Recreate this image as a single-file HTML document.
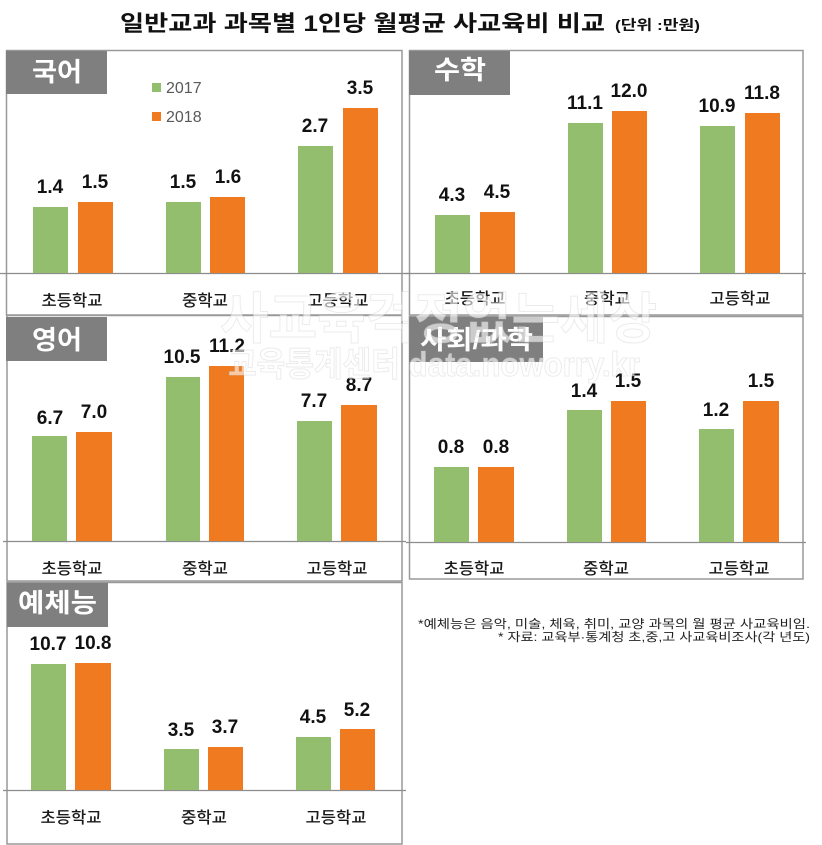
<!DOCTYPE html>
<html><head><meta charset="utf-8">
<style>
html,body{margin:0;padding:0;background:#fff;}
svg{display:block;}
.t{font-family:"Liberation Sans","Noto Sans CJK KR",sans-serif;}
.k{font-family:"Liberation Sans","Noto Sans CJK KR","NanumGothic",sans-serif;}
.v{font-family:"Liberation Sans",sans-serif;font-weight:bold;font-size:19px;fill:#111;text-anchor:middle;}
.c{font-family:"Liberation Sans","Noto Sans CJK KR",sans-serif;font-size:16px;font-weight:500;fill:#1a1a1a;text-anchor:middle;}
.lb{font-family:"Liberation Sans","Noto Sans CJK KR",sans-serif;font-weight:bold;font-size:26px;fill:#fff;}
</style></head>
<body>
<svg width="822" height="845" viewBox="0 0 822 845" xmlns="http://www.w3.org/2000/svg">
<rect x="0" y="0" width="822" height="845" fill="#fff"/>

<!-- Title -->
<text class="t" x="120" y="31" font-size="22" font-weight="bold" fill="#111" textLength="485" lengthAdjust="spacingAndGlyphs">일반교과 과목별 1인당 월평균 사교육비 비교</text>
<text class="t" x="615" y="30" font-size="14" font-weight="bold" fill="#111" textLength="85" lengthAdjust="spacingAndGlyphs">(단위 :만원)</text>

<!-- Panel borders -->
<g fill="none" stroke="#999" stroke-width="1.5">
<rect x="6.5" y="50.5" width="395.5" height="264.5"/>
<rect x="409.5" y="50.5" width="393.5" height="264.5"/>
<rect x="7" y="315.5" width="395" height="265.5"/>
<rect x="409.5" y="316.5" width="393.5" height="262.5"/>
<rect x="7" y="582.5" width="395" height="261.5"/>
</g>

<!-- Axis lines -->
<g stroke="#8c8c8c" stroke-width="1.2">
<line x1="0" y1="273.5" x2="410" y2="273.5"/>
<line x1="405" y1="273.5" x2="806" y2="273.5"/>
<line x1="3" y1="541.5" x2="406" y2="541.5"/>
<line x1="406" y1="542.5" x2="806" y2="542.5"/>
<line x1="3" y1="790.5" x2="406" y2="790.5"/>
</g>

<!-- Label boxes -->
<g fill="#7f7f7f">
<rect x="6" y="51" width="101" height="43"/>
<rect x="409" y="51" width="101" height="44"/>
<rect x="6" y="317" width="101" height="44"/>
<rect x="409" y="317" width="134" height="45"/>
<rect x="7" y="583" width="101" height="44"/>
</g>
<text class="lb" x="32" y="81" textLength="50" lengthAdjust="spacingAndGlyphs">국어</text>
<text class="lb" x="434" y="79" textLength="52" lengthAdjust="spacingAndGlyphs">수학</text>
<text class="lb" x="32" y="349" textLength="50" lengthAdjust="spacingAndGlyphs">영어</text>
<text class="lb" x="420" y="349" textLength="113" lengthAdjust="spacingAndGlyphs">사회/과학</text>
<text class="lb" x="18" y="612" textLength="79" lengthAdjust="spacingAndGlyphs">예체능</text>

<!-- Legend -->
<rect x="152" y="83" width="9" height="9" fill="#92be6e"/>
<text x="166" y="93" font-family="Liberation Sans, sans-serif" font-size="16" fill="#595959">2017</text>
<rect x="152" y="112" width="9" height="9" fill="#ef7a20"/>
<text x="166" y="122" font-family="Liberation Sans, sans-serif" font-size="16" fill="#595959">2018</text>

<!-- 국어 bars (baseline 273) -->
<g>
<rect x="33" y="207" width="35" height="66" fill="#92be6e"/>
<rect x="78" y="202" width="35" height="71" fill="#ef7a20"/>
<rect x="166" y="202" width="35" height="71" fill="#92be6e"/>
<rect x="210" y="197" width="35" height="76" fill="#ef7a20"/>
<rect x="298" y="146" width="35" height="127" fill="#92be6e"/>
<rect x="343" y="108" width="35" height="165" fill="#ef7a20"/>
</g>
<text class="v" x="50" y="193">1.4</text>
<text class="v" x="95" y="188">1.5</text>
<text class="v" x="183" y="188">1.5</text>
<text class="v" x="228" y="183">1.6</text>
<text class="v" x="315" y="132">2.7</text>
<text class="v" x="360" y="94">3.5</text>
<text class="c" x="72" y="306" textLength="61" lengthAdjust="spacingAndGlyphs">초등학교</text>
<text class="c" x="205" y="306" textLength="46" lengthAdjust="spacingAndGlyphs">중학교</text>
<text class="c" x="338" y="306" textLength="61" lengthAdjust="spacingAndGlyphs">고등학교</text>

<!-- 수학 bars (baseline 273) -->
<g>
<rect x="435" y="215" width="35" height="58" fill="#92be6e"/>
<rect x="480" y="212" width="35" height="61" fill="#ef7a20"/>
<rect x="568" y="123" width="35" height="150" fill="#92be6e"/>
<rect x="612" y="111" width="35" height="162" fill="#ef7a20"/>
<rect x="700" y="126" width="35" height="147" fill="#92be6e"/>
<rect x="745" y="113" width="35" height="160" fill="#ef7a20"/>
</g>
<text class="v" x="452" y="201">4.3</text>
<text class="v" x="497" y="198">4.5</text>
<text class="v" x="585" y="109">11.1</text>
<text class="v" x="629" y="97">12.0</text>
<text class="v" x="717" y="112">10.9</text>
<text class="v" x="762" y="99">11.8</text>
<text class="c" x="475" y="304" textLength="61" lengthAdjust="spacingAndGlyphs">초등학교</text>
<text class="c" x="607" y="304" textLength="46" lengthAdjust="spacingAndGlyphs">중학교</text>
<text class="c" x="740" y="304" textLength="61" lengthAdjust="spacingAndGlyphs">고등학교</text>

<!-- 영어 bars (baseline 541) -->
<g>
<rect x="32" y="436" width="35" height="105" fill="#92be6e"/>
<rect x="76" y="432" width="36" height="109" fill="#ef7a20"/>
<rect x="166" y="377" width="34" height="164" fill="#92be6e"/>
<rect x="209" y="366" width="35" height="175" fill="#ef7a20"/>
<rect x="297" y="421" width="35" height="120" fill="#92be6e"/>
<rect x="341" y="405" width="36" height="136" fill="#ef7a20"/>
</g>
<text class="v" x="50" y="424">6.7</text>
<text class="v" x="94" y="418">7.0</text>
<text class="v" x="182" y="363">10.5</text>
<text class="v" x="227" y="352">11.2</text>
<text class="v" x="314" y="407">7.7</text>
<text class="v" x="359" y="391">8.7</text>
<text class="c" x="72" y="574" textLength="61" lengthAdjust="spacingAndGlyphs">초등학교</text>
<text class="c" x="205" y="574" textLength="46" lengthAdjust="spacingAndGlyphs">중학교</text>
<text class="c" x="337" y="574" textLength="61" lengthAdjust="spacingAndGlyphs">고등학교</text>

<!-- 사회/과학 bars (baseline 542) -->
<g>
<rect x="434" y="467" width="35" height="75" fill="#92be6e"/>
<rect x="478" y="467" width="36" height="75" fill="#ef7a20"/>
<rect x="567" y="410" width="35" height="132" fill="#92be6e"/>
<rect x="611" y="401" width="35" height="141" fill="#ef7a20"/>
<rect x="699" y="429" width="35" height="113" fill="#92be6e"/>
<rect x="743" y="401" width="36" height="141" fill="#ef7a20"/>
</g>
<text class="v" x="451" y="453">0.8</text>
<text class="v" x="496" y="453">0.8</text>
<text class="v" x="584" y="397">1.4</text>
<text class="v" x="628" y="387">1.5</text>
<text class="v" x="716" y="416">1.2</text>
<text class="v" x="761" y="387">1.5</text>
<text class="c" x="474" y="574" textLength="61" lengthAdjust="spacingAndGlyphs">초등학교</text>
<text class="c" x="606" y="574" textLength="46" lengthAdjust="spacingAndGlyphs">중학교</text>
<text class="c" x="739" y="574" textLength="61" lengthAdjust="spacingAndGlyphs">고등학교</text>

<!-- 예체능 bars (baseline 790) -->
<g>
<rect x="31" y="664" width="35" height="126" fill="#92be6e"/>
<rect x="75" y="663" width="36" height="127" fill="#ef7a20"/>
<rect x="164" y="749" width="35" height="41" fill="#92be6e"/>
<rect x="208" y="747" width="35" height="43" fill="#ef7a20"/>
<rect x="296" y="737" width="35" height="53" fill="#92be6e"/>
<rect x="340" y="729" width="35" height="61" fill="#ef7a20"/>
</g>
<text class="v" x="48" y="650">10.7</text>
<text class="v" x="93" y="649">10.8</text>
<text class="v" x="181" y="736">3.5</text>
<text class="v" x="225" y="733">3.7</text>
<text class="v" x="313" y="723">4.5</text>
<text class="v" x="357" y="716">5.2</text>
<text class="c" x="71" y="823" textLength="61" lengthAdjust="spacingAndGlyphs">초등학교</text>
<text class="c" x="204" y="823" textLength="46" lengthAdjust="spacingAndGlyphs">중학교</text>
<text class="c" x="336" y="823" textLength="61" lengthAdjust="spacingAndGlyphs">고등학교</text>

<!-- Notes -->
<text class="k" x="418" y="628" font-size="12" fill="#222" textLength="392" lengthAdjust="spacingAndGlyphs">*예체능은 음악, 미술, 체육, 취미, 교양 과목의 월 평균 사교육비임.</text>
<text class="k" x="498" y="641" font-size="12" fill="#222" textLength="312" lengthAdjust="spacingAndGlyphs">* 자료: 교육부·통계청 초,중,고 사교육비조사(각 년도)</text>

<!-- Watermark -->
<g class="t" font-weight="bold" fill="#ffffff" fill-opacity="0.6" stroke="#bcbcbc" stroke-opacity="0.3" stroke-width="1">
<text x="220" y="338" font-size="55" textLength="437" lengthAdjust="spacingAndGlyphs">사교육걱정없는세상</text>
<text x="228" y="376" font-size="34" textLength="412" lengthAdjust="spacingAndGlyphs">교육통계센터 data.noworry.kr</text>
</g>
</svg>
</body></html>
